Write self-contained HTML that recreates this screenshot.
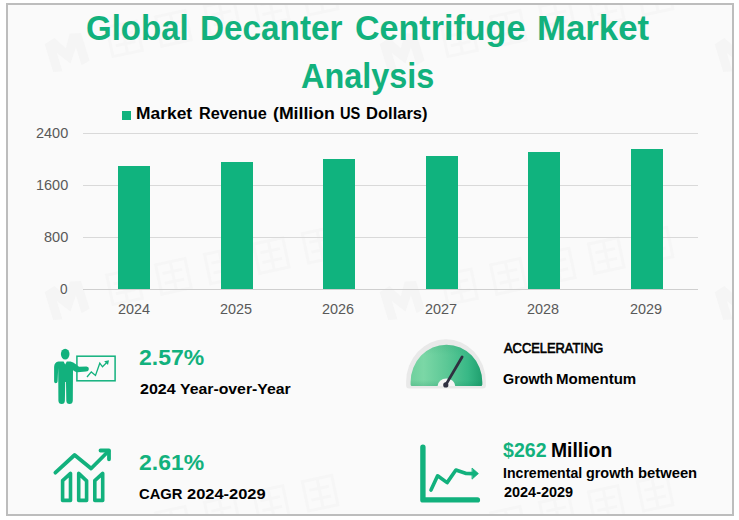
<!DOCTYPE html>
<html><head><meta charset="utf-8"><title>Global Decanter Centrifuge Market Analysis</title>
<style>
html,body{margin:0;padding:0;background:#fff;}
body{width:739px;height:520px;position:relative;overflow:hidden;font-family:"Liberation Sans",sans-serif;}
.frame{position:absolute;left:6px;top:3px;width:724px;height:509px;border:2px solid #bdbdbd;background:#fafafa;}
.t{position:absolute;white-space:nowrap;line-height:1;transform-origin:0 0;font-family:"Liberation Sans",sans-serif;}
.gl{position:absolute;left:83px;width:615px;height:1px;background:#d9d9d9;}
.ax{position:absolute;left:83px;width:615px;top:288.5px;height:1px;background:#cfcfcf;}
.bar{position:absolute;width:32px;background:#10b37e;}
.lgsq{position:absolute;left:122px;top:111px;width:9px;height:9px;background:#10b37e;}
svg{position:absolute;left:0;top:0;}
</style></head><body>
<div class="frame"></div>
<svg width="739" height="520" viewBox="0 0 739 520"><defs><clipPath id="fc"><rect x="8" y="5" width="724" height="509"/></clipPath></defs><g clip-path="url(#fc)"><g transform="translate(-268 52) rotate(-17)" fill="#f5f5f5" stroke="none"><path d="M-19 -14 L-8 -17 L0 -4 L8 -17 L19 -14 L19 15 L10 17 L10 -2 L0 12 L-10 -2 L-10 17 L-19 15 Z"/></g><g transform="translate(-268 52) rotate(-12)" fill="none" stroke="#f6f6f6" stroke-width="3"><rect x="44" y="-16" width="30" height="30"/><path d="M49 -6 H69 M49 4 H69 M59 -16 V14"/><rect x="94" y="-16" width="30" height="30"/><path d="M99 -6 H119 M99 4 H119 M109 -16 V14"/><rect x="144" y="-16" width="30" height="30"/><path d="M149 -6 H169 M149 4 H169 M159 -16 V14"/><rect x="194" y="-16" width="30" height="30"/><path d="M199 -6 H219 M199 4 H219 M209 -16 V14"/><rect x="244" y="-16" width="30" height="30"/><path d="M249 -6 H269 M249 4 H269 M259 -16 V14"/></g><g transform="translate(-268 300) rotate(-17)" fill="#f5f5f5" stroke="none"><path d="M-19 -14 L-8 -17 L0 -4 L8 -17 L19 -14 L19 15 L10 17 L10 -2 L0 12 L-10 -2 L-10 17 L-19 15 Z"/></g><g transform="translate(-268 300) rotate(-12)" fill="none" stroke="#f6f6f6" stroke-width="3"><rect x="44" y="-16" width="30" height="30"/><path d="M49 -6 H69 M49 4 H69 M59 -16 V14"/><rect x="94" y="-16" width="30" height="30"/><path d="M99 -6 H119 M99 4 H119 M109 -16 V14"/><rect x="144" y="-16" width="30" height="30"/><path d="M149 -6 H169 M149 4 H169 M159 -16 V14"/><rect x="194" y="-16" width="30" height="30"/><path d="M199 -6 H219 M199 4 H219 M209 -16 V14"/><rect x="244" y="-16" width="30" height="30"/><path d="M249 -6 H269 M249 4 H269 M259 -16 V14"/></g><g transform="translate(-268 548) rotate(-17)" fill="#f5f5f5" stroke="none"><path d="M-19 -14 L-8 -17 L0 -4 L8 -17 L19 -14 L19 15 L10 17 L10 -2 L0 12 L-10 -2 L-10 17 L-19 15 Z"/></g><g transform="translate(-268 548) rotate(-12)" fill="none" stroke="#f6f6f6" stroke-width="3"><rect x="44" y="-16" width="30" height="30"/><path d="M49 -6 H69 M49 4 H69 M59 -16 V14"/><rect x="94" y="-16" width="30" height="30"/><path d="M99 -6 H119 M99 4 H119 M109 -16 V14"/><rect x="144" y="-16" width="30" height="30"/><path d="M149 -6 H169 M149 4 H169 M159 -16 V14"/><rect x="194" y="-16" width="30" height="30"/><path d="M199 -6 H219 M199 4 H219 M209 -16 V14"/><rect x="244" y="-16" width="30" height="30"/><path d="M249 -6 H269 M249 4 H269 M259 -16 V14"/></g><g transform="translate(67 52) rotate(-17)" fill="#f5f5f5" stroke="none"><path d="M-19 -14 L-8 -17 L0 -4 L8 -17 L19 -14 L19 15 L10 17 L10 -2 L0 12 L-10 -2 L-10 17 L-19 15 Z"/></g><g transform="translate(67 52) rotate(-12)" fill="none" stroke="#f6f6f6" stroke-width="3"><rect x="44" y="-16" width="30" height="30"/><path d="M49 -6 H69 M49 4 H69 M59 -16 V14"/><rect x="94" y="-16" width="30" height="30"/><path d="M99 -6 H119 M99 4 H119 M109 -16 V14"/><rect x="144" y="-16" width="30" height="30"/><path d="M149 -6 H169 M149 4 H169 M159 -16 V14"/><rect x="194" y="-16" width="30" height="30"/><path d="M199 -6 H219 M199 4 H219 M209 -16 V14"/><rect x="244" y="-16" width="30" height="30"/><path d="M249 -6 H269 M249 4 H269 M259 -16 V14"/></g><g transform="translate(67 300) rotate(-17)" fill="#f5f5f5" stroke="none"><path d="M-19 -14 L-8 -17 L0 -4 L8 -17 L19 -14 L19 15 L10 17 L10 -2 L0 12 L-10 -2 L-10 17 L-19 15 Z"/></g><g transform="translate(67 300) rotate(-12)" fill="none" stroke="#f6f6f6" stroke-width="3"><rect x="44" y="-16" width="30" height="30"/><path d="M49 -6 H69 M49 4 H69 M59 -16 V14"/><rect x="94" y="-16" width="30" height="30"/><path d="M99 -6 H119 M99 4 H119 M109 -16 V14"/><rect x="144" y="-16" width="30" height="30"/><path d="M149 -6 H169 M149 4 H169 M159 -16 V14"/><rect x="194" y="-16" width="30" height="30"/><path d="M199 -6 H219 M199 4 H219 M209 -16 V14"/><rect x="244" y="-16" width="30" height="30"/><path d="M249 -6 H269 M249 4 H269 M259 -16 V14"/></g><g transform="translate(67 548) rotate(-17)" fill="#f5f5f5" stroke="none"><path d="M-19 -14 L-8 -17 L0 -4 L8 -17 L19 -14 L19 15 L10 17 L10 -2 L0 12 L-10 -2 L-10 17 L-19 15 Z"/></g><g transform="translate(67 548) rotate(-12)" fill="none" stroke="#f6f6f6" stroke-width="3"><rect x="44" y="-16" width="30" height="30"/><path d="M49 -6 H69 M49 4 H69 M59 -16 V14"/><rect x="94" y="-16" width="30" height="30"/><path d="M99 -6 H119 M99 4 H119 M109 -16 V14"/><rect x="144" y="-16" width="30" height="30"/><path d="M149 -6 H169 M149 4 H169 M159 -16 V14"/><rect x="194" y="-16" width="30" height="30"/><path d="M199 -6 H219 M199 4 H219 M209 -16 V14"/><rect x="244" y="-16" width="30" height="30"/><path d="M249 -6 H269 M249 4 H269 M259 -16 V14"/></g><g transform="translate(402 52) rotate(-17)" fill="#f5f5f5" stroke="none"><path d="M-19 -14 L-8 -17 L0 -4 L8 -17 L19 -14 L19 15 L10 17 L10 -2 L0 12 L-10 -2 L-10 17 L-19 15 Z"/></g><g transform="translate(402 52) rotate(-12)" fill="none" stroke="#f6f6f6" stroke-width="3"><rect x="44" y="-16" width="30" height="30"/><path d="M49 -6 H69 M49 4 H69 M59 -16 V14"/><rect x="94" y="-16" width="30" height="30"/><path d="M99 -6 H119 M99 4 H119 M109 -16 V14"/><rect x="144" y="-16" width="30" height="30"/><path d="M149 -6 H169 M149 4 H169 M159 -16 V14"/><rect x="194" y="-16" width="30" height="30"/><path d="M199 -6 H219 M199 4 H219 M209 -16 V14"/><rect x="244" y="-16" width="30" height="30"/><path d="M249 -6 H269 M249 4 H269 M259 -16 V14"/></g><g transform="translate(402 300) rotate(-17)" fill="#f5f5f5" stroke="none"><path d="M-19 -14 L-8 -17 L0 -4 L8 -17 L19 -14 L19 15 L10 17 L10 -2 L0 12 L-10 -2 L-10 17 L-19 15 Z"/></g><g transform="translate(402 300) rotate(-12)" fill="none" stroke="#f6f6f6" stroke-width="3"><rect x="44" y="-16" width="30" height="30"/><path d="M49 -6 H69 M49 4 H69 M59 -16 V14"/><rect x="94" y="-16" width="30" height="30"/><path d="M99 -6 H119 M99 4 H119 M109 -16 V14"/><rect x="144" y="-16" width="30" height="30"/><path d="M149 -6 H169 M149 4 H169 M159 -16 V14"/><rect x="194" y="-16" width="30" height="30"/><path d="M199 -6 H219 M199 4 H219 M209 -16 V14"/><rect x="244" y="-16" width="30" height="30"/><path d="M249 -6 H269 M249 4 H269 M259 -16 V14"/></g><g transform="translate(402 548) rotate(-17)" fill="#f5f5f5" stroke="none"><path d="M-19 -14 L-8 -17 L0 -4 L8 -17 L19 -14 L19 15 L10 17 L10 -2 L0 12 L-10 -2 L-10 17 L-19 15 Z"/></g><g transform="translate(402 548) rotate(-12)" fill="none" stroke="#f6f6f6" stroke-width="3"><rect x="44" y="-16" width="30" height="30"/><path d="M49 -6 H69 M49 4 H69 M59 -16 V14"/><rect x="94" y="-16" width="30" height="30"/><path d="M99 -6 H119 M99 4 H119 M109 -16 V14"/><rect x="144" y="-16" width="30" height="30"/><path d="M149 -6 H169 M149 4 H169 M159 -16 V14"/><rect x="194" y="-16" width="30" height="30"/><path d="M199 -6 H219 M199 4 H219 M209 -16 V14"/><rect x="244" y="-16" width="30" height="30"/><path d="M249 -6 H269 M249 4 H269 M259 -16 V14"/></g><g transform="translate(737 52) rotate(-17)" fill="#f5f5f5" stroke="none"><path d="M-19 -14 L-8 -17 L0 -4 L8 -17 L19 -14 L19 15 L10 17 L10 -2 L0 12 L-10 -2 L-10 17 L-19 15 Z"/></g><g transform="translate(737 52) rotate(-12)" fill="none" stroke="#f6f6f6" stroke-width="3"><rect x="44" y="-16" width="30" height="30"/><path d="M49 -6 H69 M49 4 H69 M59 -16 V14"/><rect x="94" y="-16" width="30" height="30"/><path d="M99 -6 H119 M99 4 H119 M109 -16 V14"/><rect x="144" y="-16" width="30" height="30"/><path d="M149 -6 H169 M149 4 H169 M159 -16 V14"/><rect x="194" y="-16" width="30" height="30"/><path d="M199 -6 H219 M199 4 H219 M209 -16 V14"/><rect x="244" y="-16" width="30" height="30"/><path d="M249 -6 H269 M249 4 H269 M259 -16 V14"/></g><g transform="translate(737 300) rotate(-17)" fill="#f5f5f5" stroke="none"><path d="M-19 -14 L-8 -17 L0 -4 L8 -17 L19 -14 L19 15 L10 17 L10 -2 L0 12 L-10 -2 L-10 17 L-19 15 Z"/></g><g transform="translate(737 300) rotate(-12)" fill="none" stroke="#f6f6f6" stroke-width="3"><rect x="44" y="-16" width="30" height="30"/><path d="M49 -6 H69 M49 4 H69 M59 -16 V14"/><rect x="94" y="-16" width="30" height="30"/><path d="M99 -6 H119 M99 4 H119 M109 -16 V14"/><rect x="144" y="-16" width="30" height="30"/><path d="M149 -6 H169 M149 4 H169 M159 -16 V14"/><rect x="194" y="-16" width="30" height="30"/><path d="M199 -6 H219 M199 4 H219 M209 -16 V14"/><rect x="244" y="-16" width="30" height="30"/><path d="M249 -6 H269 M249 4 H269 M259 -16 V14"/></g><g transform="translate(737 548) rotate(-17)" fill="#f5f5f5" stroke="none"><path d="M-19 -14 L-8 -17 L0 -4 L8 -17 L19 -14 L19 15 L10 17 L10 -2 L0 12 L-10 -2 L-10 17 L-19 15 Z"/></g><g transform="translate(737 548) rotate(-12)" fill="none" stroke="#f6f6f6" stroke-width="3"><rect x="44" y="-16" width="30" height="30"/><path d="M49 -6 H69 M49 4 H69 M59 -16 V14"/><rect x="94" y="-16" width="30" height="30"/><path d="M99 -6 H119 M99 4 H119 M109 -16 V14"/><rect x="144" y="-16" width="30" height="30"/><path d="M149 -6 H169 M149 4 H169 M159 -16 V14"/><rect x="194" y="-16" width="30" height="30"/><path d="M199 -6 H219 M199 4 H219 M209 -16 V14"/><rect x="244" y="-16" width="30" height="30"/><path d="M249 -6 H269 M249 4 H269 M259 -16 V14"/></g></g></svg>
<div class="gl" style="top:133px"></div><div class="gl" style="top:185px"></div><div class="gl" style="top:237px"></div>
<div class="bar" style="left:118px;top:165.8px;height:123.2px"></div><div class="bar" style="left:220.5px;top:161.6px;height:127.4px"></div><div class="bar" style="left:322.8px;top:158.6px;height:130.4px"></div><div class="bar" style="left:426px;top:156.2px;height:132.8px"></div><div class="bar" style="left:528.4px;top:152.2px;height:136.8px"></div><div class="bar" style="left:631.4px;top:149.2px;height:139.8px"></div>
<div class="ax"></div>
<div class="lgsq"></div>
<span class="t" style="left:86.33px;top:10.89px;font-size:34.16px;font-weight:700;color:#12b17d;transform:scaleX(0.9660)">Global</span>
<span class="t" style="left:200.15px;top:10.89px;font-size:34.16px;font-weight:700;color:#12b17d;transform:scaleX(0.9750)">Decanter</span>
<span class="t" style="left:354.50px;top:10.89px;font-size:34.16px;font-weight:700;color:#12b17d;transform:scaleX(0.9976)">Centrifuge</span>
<span class="t" style="left:536.76px;top:10.89px;font-size:34.16px;font-weight:700;color:#12b17d;transform:scaleX(1.0185)">Market</span>
<span class="t" style="left:301.45px;top:58.69px;font-size:34.16px;font-weight:700;color:#12b17d;transform:scaleX(0.9493)">Analysis</span>
<span class="t" style="left:135.80px;top:106.35px;font-size:15.77px;font-weight:700;color:#000;transform:scaleX(1.1040)">Market</span>
<span class="t" style="left:198.67px;top:106.35px;font-size:15.77px;font-weight:700;color:#000;transform:scaleX(1.0312)">Revenue</span>
<span class="t" style="left:273.08px;top:106.35px;font-size:15.77px;font-weight:700;color:#000;transform:scaleX(1.1208)">(Million</span>
<span class="t" style="left:339.57px;top:106.35px;font-size:15.77px;font-weight:700;color:#000;transform:scaleX(0.9286)">US</span>
<span class="t" style="left:366.35px;top:106.35px;font-size:15.77px;font-weight:700;color:#000;transform:scaleX(1.0491)">Dollars)</span>
<span class="t" style="left:35.90px;top:126.10px;font-size:14.53px;font-weight:400;color:#595959;transform:scaleX(0.9968)">2400</span>
<span class="t" style="left:35.90px;top:178.10px;font-size:14.53px;font-weight:400;color:#595959;transform:scaleX(0.9968)">1600</span>
<span class="t" style="left:43.70px;top:230.10px;font-size:14.53px;font-weight:400;color:#595959;transform:scaleX(1.0043)">800</span>
<span class="t" style="left:60.40px;top:281.90px;font-size:14.53px;font-weight:400;color:#595959;transform:scaleX(0.9375)">0</span>
<span class="t" style="left:117.61px;top:302.10px;font-size:14.53px;font-weight:400;color:#595959;transform:scaleX(0.9935)">2024</span>
<span class="t" style="left:220.01px;top:302.10px;font-size:14.53px;font-weight:400;color:#595959;transform:scaleX(0.9935)">2025</span>
<span class="t" style="left:322.41px;top:302.10px;font-size:14.53px;font-weight:400;color:#595959;transform:scaleX(0.9935)">2026</span>
<span class="t" style="left:424.81px;top:302.10px;font-size:14.53px;font-weight:400;color:#595959;transform:scaleX(0.9935)">2027</span>
<span class="t" style="left:527.21px;top:302.10px;font-size:14.53px;font-weight:400;color:#595959;transform:scaleX(0.9935)">2028</span>
<span class="t" style="left:629.61px;top:302.10px;font-size:14.53px;font-weight:400;color:#595959;transform:scaleX(0.9935)">2029</span>
<span class="t" style="left:138.69px;top:345.91px;font-size:22.67px;font-weight:700;color:#12b17d;transform:scaleX(1.0143)">2.57%</span>
<span class="t" style="left:139.70px;top:381.06px;font-size:15.41px;font-weight:700;color:#000;transform:scaleX(1.0412)">2024</span>
<span class="t" style="left:179.90px;top:381.06px;font-size:15.41px;font-weight:700;color:#000;transform:scaleX(1.0259)">Year-over-Year</span>
<span class="t" style="left:138.69px;top:450.81px;font-size:22.67px;font-weight:700;color:#12b17d;transform:scaleX(1.0143)">2.61%</span>
<span class="t" style="left:138.74px;top:485.86px;font-size:15.41px;font-weight:700;color:#000;transform:scaleX(0.9591)">CAGR</span>
<span class="t" style="left:186.50px;top:485.86px;font-size:15.41px;font-weight:700;color:#000;transform:scaleX(1.0671)">2024-2029</span>
<span class="t" style="left:503.50px;top:340.97px;font-size:14.10px;font-weight:400;color:#000;-webkit-text-stroke:0.65px #000;transform:scaleX(0.9139)">ACCELERATING</span>
<span class="t" style="left:503.10px;top:371.84px;font-size:14.24px;font-weight:700;color:#000;transform:scaleX(1.0061)">Growth</span>
<span class="t" style="left:556.44px;top:371.84px;font-size:14.24px;font-weight:700;color:#000;transform:scaleX(1.0568)">Momentum</span>
<span class="t" style="left:503.00px;top:440.87px;font-size:19.77px;font-weight:700;color:#12b17d;transform:scaleX(0.9907)">$262</span>
<span class="t" style="left:551.42px;top:440.87px;font-size:19.77px;font-weight:700;color:#000;transform:scaleX(0.9787)">Million</span>
<span class="t" style="left:502.51px;top:466.14px;font-size:14.24px;font-weight:700;color:#000;transform:scaleX(0.9910)">Incremental</span>
<span class="t" style="left:585.89px;top:466.14px;font-size:14.24px;font-weight:700;color:#000;transform:scaleX(1.0087)">growth</span>
<span class="t" style="left:637.76px;top:466.14px;font-size:14.24px;font-weight:700;color:#000;transform:scaleX(1.0382)">between</span>
<span class="t" style="left:503.50px;top:484.64px;font-size:14.24px;font-weight:700;color:#000;transform:scaleX(1.0147)">2024-2029</span>
<svg width="739" height="520" viewBox="0 0 739 520">
<defs>
<linearGradient id="gg" x1="0" y1="0" x2="1" y2="0"><stop offset="0" stop-color="#6fd09d"/><stop offset="0.18" stop-color="#7bd7a6"/><stop offset="0.5" stop-color="#5cc896"/><stop offset="0.8" stop-color="#38b886"/><stop offset="1" stop-color="#1f9f6e"/></linearGradient>
<linearGradient id="gv" x1="0" y1="0" x2="0" y2="1"><stop offset="0" stop-color="#0a7a50" stop-opacity="0.10"/><stop offset="0.25" stop-color="#0a7a50" stop-opacity="0"/><stop offset="0.85" stop-color="#0a7a50" stop-opacity="0"/><stop offset="1" stop-color="#0a7a50" stop-opacity="0.18"/></linearGradient>
</defs>
<!-- ICON1 -->
<g id="ic1" fill="#12b17d" stroke="none">
<ellipse cx="65.2" cy="354.1" rx="4.3" ry="5.4"/>
<path d="M58.5 361.5 L63.6 361.5 L65.2 364.5 L66.8 361.5 L70.5 361.5 Q73.5 362 75.5 364 L79 366.8 L86.5 366.4 Q89 366.6 88.9 369 Q88.7 371.5 86 371.6 L77.5 372.2 Q75.5 372 73 370.2 L72.8 400.5 Q72.7 404 69.5 404 Q66.4 404 66.3 400.5 L66 382 L65.2 382 L64.9 400.5 Q64.8 404 61.7 404 Q58.5 404 58.4 400.5 L58.2 368 L57.6 381.5 Q57.4 383.3 55.8 383.3 Q54.2 383.2 54.1 381.5 L54.1 367 Q54.3 362 58.5 361.5 Z"/>
<rect x="76.9" y="356.2" width="38.2" height="24.6" fill="none" stroke="#12b17d" stroke-width="1.5"/>
<path d="M87 377 L91.3 371.9 L95.5 375.5 L99.8 363.2 L102.5 366.8 L106.5 362.8" fill="none" stroke="#12b17d" stroke-width="1.3" stroke-linejoin="miter"/>
<path d="M104.2 361.2 L109 360.2 L108 365 Z"/>
</g>
<!-- ICON2 -->
<g id="ic2" fill="none" stroke="#12b17d" stroke-linecap="round" stroke-linejoin="round">
<path d="M55.4 472.7 L74.6 455 L91.1 468.5 L108.6 451" stroke-width="3.8"/>
<path d="M100.5 450.5 L109 450.5 L109 459.3" stroke-width="3.8"/>
<path d="M62.6 480.6 L70.5 473.4 L70.5 500.4 L62.6 500.4 Z" stroke-width="3.6"/>
<path d="M78.7 473.4 L86.6 480.9 L86.6 500.4 L78.7 500.4 Z" stroke-width="3.6"/>
<path d="M94.8 480.6 L102.7 473.4 L102.7 500.4 L94.8 500.4 Z" stroke-width="3.6"/>
</g>
<!-- ICON3 gauge -->
<g id="ic3">
<path d="M406.1 385.5 Q406.1 388.5 409.1 388.5 L482.9 388.5 Q485.9 388.5 485.9 385.5 L485.9 382 A39.9 42.9 0 0 0 406.1 382 Z" fill="#e9e9e9"/>
<path d="M410.6 384.6 Q410.6 386.1 412.1 386.1 L480.8 386.1 Q482.3 386.1 482.3 384.6 L482.3 382 A35.85 37.3 0 0 0 410.6 382 Z" fill="url(#gg)"/>
<path d="M410.6 384.6 Q410.6 386.1 412.1 386.1 L480.8 386.1 Q482.3 386.1 482.3 384.6 L482.3 382 A35.85 37.3 0 0 0 410.6 382 Z" fill="url(#gv)"/>
<path d="M437.6 386.1 A8.8 7.6 0 0 1 455.2 386.1 Z" fill="#f4f4f4"/>
<path d="M445.9 384.6 L462.1 357" stroke="#2f3040" stroke-width="2.8" stroke-linecap="round"/>
<circle cx="445.8" cy="384.9" r="2.6" fill="#2f3040"/>
</g>
<!-- ICON4 -->
<g id="ic4" fill="none" stroke="#12b17d" stroke-linecap="round" stroke-linejoin="round">
<path d="M422.9 447.2 L422.9 499.9 L477.4 499.9" stroke-width="5.4"/>
<path d="M431 490.1 L437.6 475.8 L447.1 482.6 L455.9 470 L466.2 473.5 L473 473.6" stroke-width="3.6"/>
<path d="M472.3 468.3 L478.4 473.6 L472.3 478.9 Z" fill="#12b17d" stroke-width="0.8"/>
</g>
</svg>
</body></html>
